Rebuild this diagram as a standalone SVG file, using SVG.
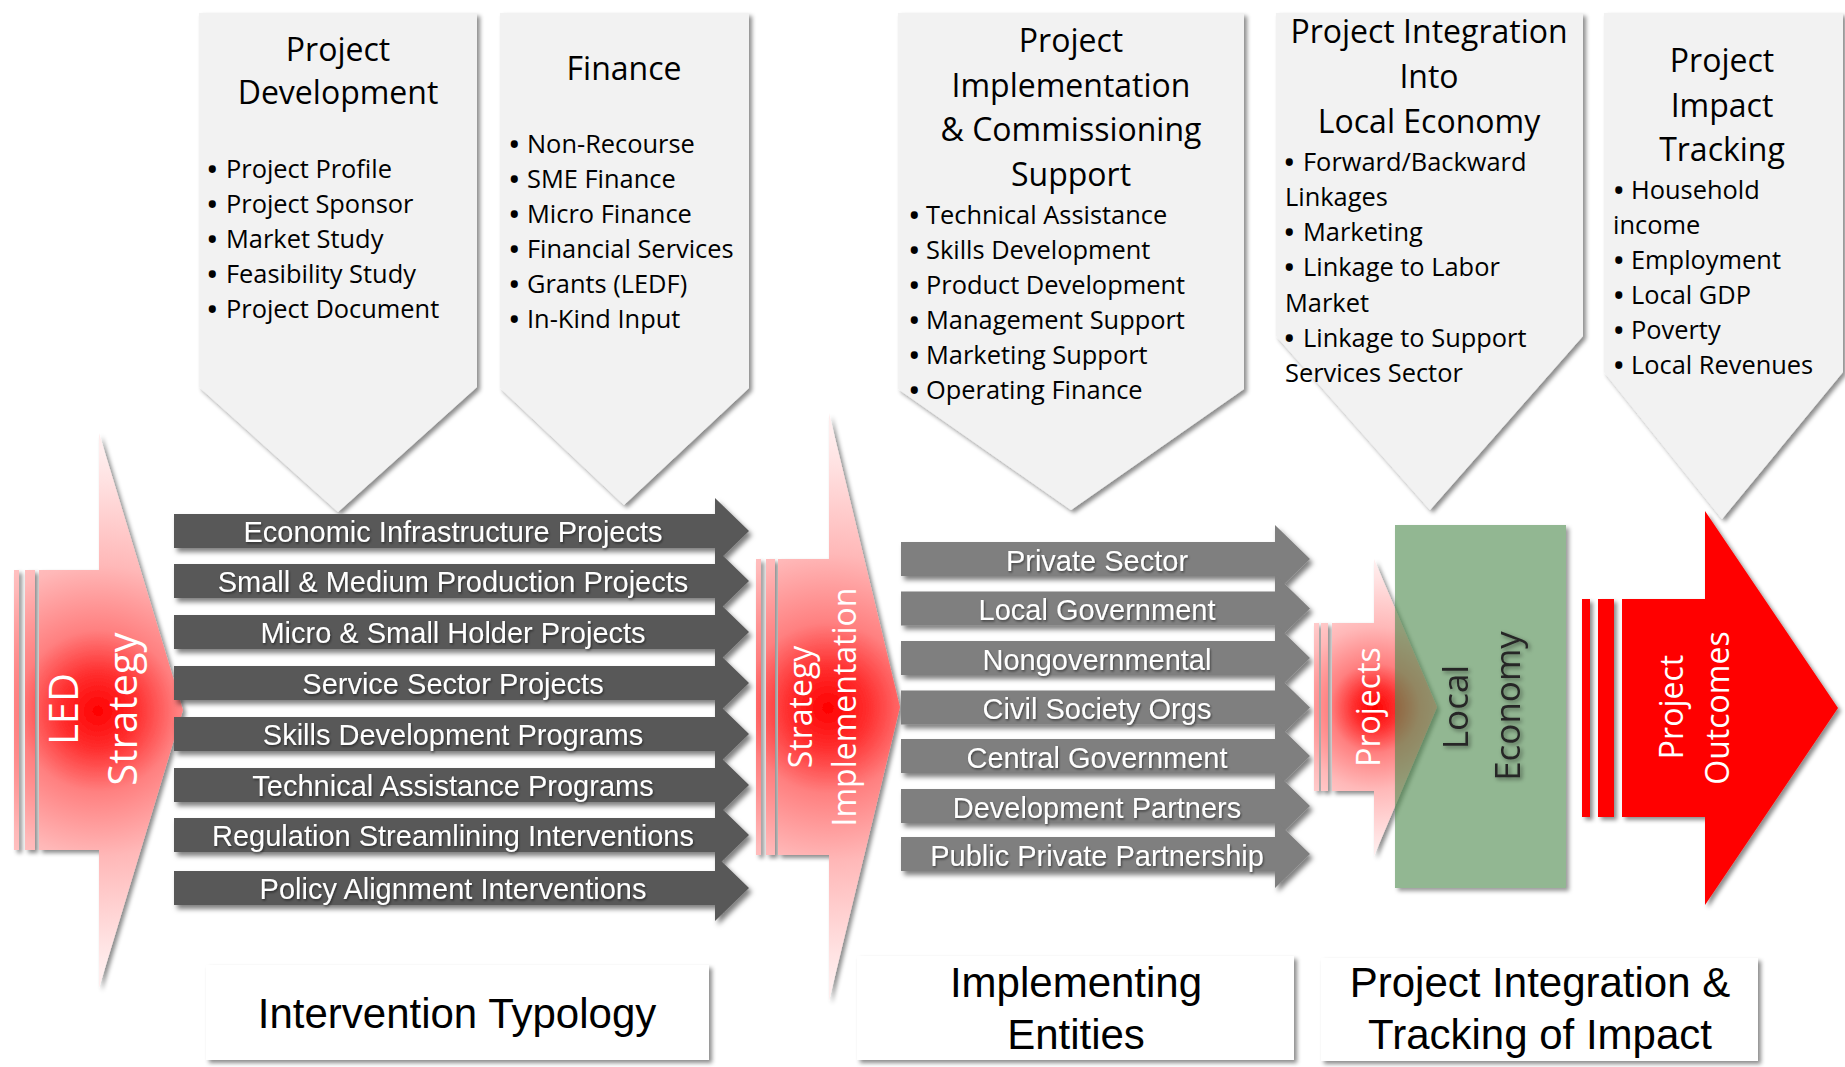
<svg xmlns="http://www.w3.org/2000/svg" width="1845" height="1067" viewBox="0 0 1845 1067">
<defs>
<style>
.ch{fill:#f2f2f2}
.tt{font-family:"Open Sans","Noto Sans",sans-serif;fill:#000;font-size:32px;text-anchor:middle}
.li{font-family:"Open Sans","Noto Sans",sans-serif;fill:#000;font-size:25.4px}
.b{font-weight:700}
.da{fill:#595959}
.ea{fill:#7f7f7f}
.al{font-family:"Liberation Sans",Arial,sans-serif;font-size:29px;fill:#fff;text-anchor:middle}
.rt{font-family:"Open Sans","Noto Sans",sans-serif;fill:#fff;text-anchor:middle}
.bx{fill:#fff}
.bl{font-family:"Liberation Sans",Arial,sans-serif;font-size:42px;fill:#000;text-anchor:middle}
</style>
<filter id="sh" x="-10%" y="-10%" width="125%" height="125%">
<feDropShadow dx="3" dy="3" stdDeviation="2" flood-color="#000" flood-opacity="0.45"/>
</filter>
<filter id="sh2" x="-10%" y="-10%" width="125%" height="130%">
<feDropShadow dx="3" dy="4" stdDeviation="2.5" flood-color="#000" flood-opacity="0.5"/>
</filter>
<filter id="blur" x="-10%" y="-10%" width="125%" height="125%">
<feGaussianBlur stdDeviation="2"/>
</filter>
<filter id="ts" x="-5%" y="-20%" width="115%" height="150%">
<feDropShadow dx="1" dy="1.5" stdDeviation="1" flood-color="#000" flood-opacity="0.5"/>
</filter>
<filter id="ts2" x="-20%" y="-10%" width="150%" height="130%">
<feDropShadow dx="2" dy="2" stdDeviation="2" flood-color="#000" flood-opacity="0.45"/>
</filter>
<mask id="gm" maskUnits="userSpaceOnUse" x="1380" y="510" width="210" height="400">
<rect x="1380" y="510" width="210" height="400" fill="#fff"/>
<rect x="1395" y="525" width="171" height="363" fill="#000"/>
</mask>
<radialGradient id="rg" gradientUnits="userSpaceOnUse" cx="98" cy="711" r="260">
<stop offset="0" stop-color="#ff0000"/>
<stop offset="0.15" stop-color="#ff3030"/>
<stop offset="0.31" stop-color="#ff8080"/>
<stop offset="0.56" stop-color="#ffb8b8"/>
<stop offset="0.89" stop-color="#ffe2e2"/>
<stop offset="1" stop-color="#ffeeee"/>
</radialGradient>
<radialGradient id="rg2" href="#rg" cx="828" cy="708" r="275"/>
<radialGradient id="rg3" href="#rg" cx="1375" cy="708" r="145"/>
</defs>

<g id="connectors"/>

<!-- Top chevrons -->
<g id="project-development">
<path class="ch" filter="url(#sh)" d="M199,13 H477 V387 L338,512 L199,387 Z"/>
<text class="tt" x="338" y="61">Project</text>
<text class="tt" x="338" y="104">Development</text>
<text class="li" x="207.5" y="178"><tspan class="b">•</tspan><tspan x="226">Project Profile</tspan></text>
<text class="li" x="207.5" y="213"><tspan class="b">•</tspan><tspan x="226">Project Sponsor</tspan></text>
<text class="li" x="207.5" y="248"><tspan class="b">•</tspan><tspan x="226">Market Study</tspan></text>
<text class="li" x="207.5" y="283"><tspan class="b">•</tspan><tspan x="226">Feasibility Study</tspan></text>
<text class="li" x="207.5" y="318"><tspan class="b">•</tspan><tspan x="226">Project Document</tspan></text>
</g>

<g id="finance">
<path class="ch" filter="url(#sh)" d="M500,13 H749 V388 L624,505 L500,388 Z"/>
<text class="tt" x="624" y="80">Finance</text>
<text class="li" x="509.5" y="153"><tspan class="b">•</tspan><tspan x="527">Non-Recourse</tspan></text>
<text class="li" x="509.5" y="188"><tspan class="b">•</tspan><tspan x="527">SME Finance</tspan></text>
<text class="li" x="509.5" y="223"><tspan class="b">•</tspan><tspan x="527">Micro Finance</tspan></text>
<text class="li" x="509.5" y="258"><tspan class="b">•</tspan><tspan x="527">Financial Services</tspan></text>
<text class="li" x="509.5" y="293"><tspan class="b">•</tspan><tspan x="527">Grants (LEDF)</tspan></text>
<text class="li" x="509.5" y="328"><tspan class="b">•</tspan><tspan x="527">In-Kind Input</tspan></text>
</g>

<g id="implementation-support">
<path class="ch" filter="url(#sh)" d="M898,13 H1244 V389 L1071,510 L898,389 Z"/>
<text class="tt" x="1071" y="52">Project</text>
<text class="tt" x="1071" y="97">Implementation</text>
<text class="tt" x="1071" y="141">&amp; Commissioning</text>
<text class="tt" x="1071" y="186">Support</text>
<text class="li" x="909.5" y="224"><tspan class="b">•</tspan><tspan x="926">Technical Assistance</tspan></text>
<text class="li" x="909.5" y="259"><tspan class="b">•</tspan><tspan x="926">Skills Development</tspan></text>
<text class="li" x="909.5" y="294"><tspan class="b">•</tspan><tspan x="926">Product Development</tspan></text>
<text class="li" x="909.5" y="329"><tspan class="b">•</tspan><tspan x="926">Management Support</tspan></text>
<text class="li" x="909.5" y="364"><tspan class="b">•</tspan><tspan x="926">Marketing Support</tspan></text>
<text class="li" x="909.5" y="399"><tspan class="b">•</tspan><tspan x="926">Operating Finance</tspan></text>
</g>

<g id="integration-local-economy">
<path class="ch" filter="url(#sh)" d="M1276,13 H1583 V336 L1430,510 L1276,336 Z"/>
<text class="tt" x="1429" y="43">Project Integration</text>
<text class="tt" x="1429" y="88">Into</text>
<text class="tt" x="1429" y="133">Local Economy</text>
<text class="li" x="1284.5" y="171"><tspan class="b">•</tspan><tspan x="1303">Forward/Backward</tspan></text>
<text class="li" x="1285" y="206">Linkages</text>
<text class="li" x="1284.5" y="241"><tspan class="b">•</tspan><tspan x="1303">Marketing</tspan></text>
<text class="li" x="1284.5" y="276"><tspan class="b">•</tspan><tspan x="1303">Linkage to Labor</tspan></text>
<text class="li" x="1285" y="312">Market</text>
<text class="li" x="1284.5" y="347"><tspan class="b">•</tspan><tspan x="1303">Linkage to Support</tspan></text>
<text class="li" x="1285" y="382">Services Sector</text>
</g>

<g id="impact-tracking">
<path class="ch" filter="url(#sh)" d="M1604,13 H1843 V372 L1722,519 L1604,372 Z"/>
<text class="tt" x="1722" y="72">Project</text>
<text class="tt" x="1722" y="117">Impact</text>
<text class="tt" x="1722" y="161">Tracking</text>
<text class="li" x="1614" y="199"><tspan class="b">•</tspan><tspan x="1631">Household</tspan></text>
<text class="li" x="1613" y="234">income</text>
<text class="li" x="1614" y="269"><tspan class="b">•</tspan><tspan x="1631">Employment</tspan></text>
<text class="li" x="1614" y="304"><tspan class="b">•</tspan><tspan x="1631">Local GDP</tspan></text>
<text class="li" x="1614" y="339"><tspan class="b">•</tspan><tspan x="1631">Poverty</tspan></text>
<text class="li" x="1614" y="374"><tspan class="b">•</tspan><tspan x="1631">Local Revenues</tspan></text>
</g>

<!-- LED Strategy arrow -->
<g id="led-strategy">
<g fill="url(#rg)" filter="url(#sh)">
<rect x="14" y="570" width="5" height="280"/>
<rect x="25" y="570" width="10" height="280"/>
<path d="M39,570 H99 V433 L183,710 L99,988 V850 H39 Z"/>
</g>
<text class="rt" font-size="40" transform="translate(78,709) rotate(-90)">LED</text>
<text class="rt" font-size="40" transform="translate(137,709) rotate(-90)">Strategy</text>
</g>

<!-- Intervention arrows -->
<g id="intervention-arrows">
<g class="da" filter="url(#sh2)">
<path d="M174,514 H715 V498 L749,531 L715,564 V548 H174 Z"/>
<path d="M174,564 H715 V548 L749,581 L715,614 V598 H174 Z"/>
<path d="M174,615 H715 V599 L749,632 L715,665 V649 H174 Z"/>
<path d="M174,666 H715 V650 L749,683 L715,716 V700 H174 Z"/>
<path d="M174,717 H715 V701 L749,734 L715,767 V751 H174 Z"/>
<path d="M174,768 H715 V752 L749,785 L715,818 V802 H174 Z"/>
<path d="M174,818 H715 V802 L749,835 L715,868 V852 H174 Z"/>
<path d="M174,871 H715 V855 L749,888 L715,921 V905 H174 Z"/>
</g>
<g class="al" filter="url(#ts)">
<text x="453" y="541.5">Economic Infrastructure Projects</text>
<text x="453" y="591.5">Small &amp; Medium Production Projects</text>
<text x="453" y="642.5">Micro &amp; Small Holder Projects</text>
<text x="453" y="693.5">Service Sector Projects</text>
<text x="453" y="744.5">Skills Development Programs</text>
<text x="453" y="795.5">Technical Assistance Programs</text>
<text x="453" y="845.5">Regulation Streamlining Interventions</text>
<text x="453" y="898.5">Policy Alignment Interventions</text>
</g>
</g>

<!-- Strategy Implementation arrow -->
<g id="strategy-implementation">
<g fill="url(#rg2)" filter="url(#sh)">
<rect x="756" y="559" width="5" height="296"/>
<rect x="766" y="559" width="9" height="296"/>
<path d="M778,559 H829 V413 L900,707 L829,1001 V855 H778 Z"/>
</g>
<text class="rt" font-size="32" transform="translate(812,707) rotate(-90)">Strategy</text>
<text class="rt" font-size="32" transform="translate(856,707) rotate(-90)">Implementation</text>
</g>

<!-- Entity arrows -->
<g id="entity-arrows">
<g class="ea" filter="url(#sh2)">
<path d="M901,542 H1275 V525 L1310,559 L1275,593 V576 H901 Z"/>
<path d="M901,591.5 H1275 V574.5 L1310,608.5 L1275,642.5 V625.5 H901 Z"/>
<path d="M901,641 H1275 V624 L1310,658 L1275,692 V675 H901 Z"/>
<path d="M901,690.5 H1275 V673.5 L1310,707.5 L1275,741.5 V724.5 H901 Z"/>
<path d="M901,739 H1275 V722 L1310,756 L1275,790 V773 H901 Z"/>
<path d="M901,789 H1275 V772 L1310,806 L1275,840 V823 H901 Z"/>
<path d="M901,837 H1275 V820 L1310,854 L1275,888 V871 H901 Z"/>
</g>
<g class="al" filter="url(#ts)">
<text x="1097" y="570.5">Private Sector</text>
<text x="1097" y="620">Local Government</text>
<text x="1097" y="669.5">Nongovernmental</text>
<text x="1097" y="719">Civil Society Orgs</text>
<text x="1097" y="767.5">Central Government</text>
<text x="1097" y="817.5">Development Partners</text>
<text x="1097" y="865.5">Public Private Partnership</text>
</g>
</g>

<!-- Projects arrow + Local Economy -->
<g id="projects">
<g fill="url(#rg3)" filter="url(#sh)">
<rect x="1314" y="623" width="5" height="168"/>
<rect x="1321" y="623" width="7" height="168"/>
<path d="M1332,623 H1374 V559 L1437,707 L1374,856 V791 H1332 Z"/>
</g>
<text class="rt" font-size="32" transform="translate(1380,707) rotate(-90)">Projects</text>
</g>

<g id="local-economy">
<rect x="1398" y="528" width="171" height="363" fill="#000" fill-opacity="0.4" filter="url(#blur)" mask="url(#gm)"/>
<rect x="1395" y="525" width="171" height="363" fill="#4f8a4f" fill-opacity="0.62"/>
<g filter="url(#ts2)" font-family="'Open Sans','Noto Sans',sans-serif" font-size="35" fill="#262626" text-anchor="middle">
<text transform="translate(1468,707) rotate(-90)">Local</text>
<text transform="translate(1520,706) rotate(-90)">Economy</text>
</g>
</g>

<!-- Project Outcomes -->
<g id="project-outcomes">
<g fill="#ff0000" filter="url(#sh)">
<rect x="1582" y="599" width="8" height="218"/>
<rect x="1598" y="599" width="16" height="218"/>
<path d="M1622,599 H1705 V511 L1838,708 L1705,905 V817 H1622 Z"/>
</g>
<text class="rt" font-size="32" transform="translate(1683,707) rotate(-90)">Project</text>
<text class="rt" font-size="32" transform="translate(1729,708) rotate(-90)">Outcomes</text>
</g>

<!-- Bottom labels -->
<g id="intervention-typology">
<rect class="bx" x="206" y="965" width="503" height="95" filter="url(#sh)"/>
<text class="bl" x="457" y="1028">Intervention Typology</text>
</g>
<g id="implementing-entities">
<rect class="bx" x="857" y="956" width="437" height="104" filter="url(#sh)"/>
<text class="bl" x="1076" y="997">Implementing</text>
<text class="bl" x="1076" y="1049">Entities</text>
</g>
<g id="integration-tracking">
<rect class="bx" x="1321" y="958" width="437" height="103" filter="url(#sh)"/>
<text class="bl" x="1540" y="997">Project Integration &amp;</text>
<text class="bl" x="1540" y="1049">Tracking of Impact</text>
</g>
</svg>
